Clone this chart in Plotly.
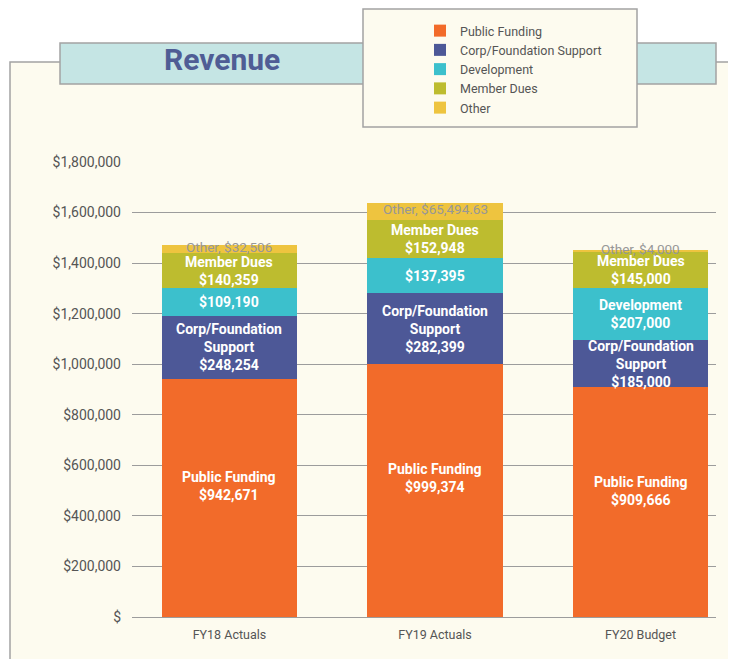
"""Revenue by fiscal year - stacked bar chart."""

import plotly.graph_objects as go

# ---- data ---------------------------------------------------------------
YEARS = ["FY18 Actuals", "FY19 Actuals", "FY20 Budget"]
SOURCES = ["Public Funding", "Corp/Foundation Support", "Development", "Member Dues", "Other"]

PUBLIC_FUNDING = [942671, 999374, 909666]
CORP_FOUNDATION = [248254, 282399, 185000]
DEVELOPMENT = [109190, 137395, 207000]
MEMBER_DUES = [140359, 152948, 145000]
OTHER = [32506, 65494.63, 4000]

# in-bar label text per segment, as written on the original slide
LABELS = {
    "Public Funding": ["Public Funding<br>$942,671", "Public Funding<br>$999,374", "Public Funding<br>$909,666"],
    "Corp/Foundation Support": ["Corp/Foundation<br>Support<br>$248,254",
                                "Corp/Foundation<br>Support<br>$282,399",
                                "Corp/Foundation<br>Support<br>$185,000"],
    "Development": ["$109,190", "$137,395", "Development<br>$207,000"],
    "Member Dues": ["Member Dues<br>$140,359", "Member Dues<br>$152,948", "Member Dues<br>$145,000"],
    "Other": ["Other, $32,506", "Other, $65,494.63", "Other, $4,000"],
}

TICK_VALS = [0, 200000, 400000, 600000, 800000, 1000000, 1200000, 1400000, 1600000, 1800000]
TICK_TEXT = ["$", "$200,000", "$400,000", "$600,000", "$800,000", "$1,000,000",
             "$1,200,000", "$1,400,000", "$1,600,000", "$1,800,000"]

# ---- style --------------------------------------------------------------
COLORS = {
    "Public Funding": "#F26B2A",
    "Corp/Foundation Support": "#4D5897",
    "Development": "#3CC0CC",
    "Member Dues": "#BDBC2F",
    "Other": "#EEC43F",
}
CREAM = "#FDFBEF"
BORDER = "#A3A3A3"
TEXT_GREY = "#555555"
FONT = "Roboto, Arial, sans-serif"

# where inside a segment its label sits (0.5 = middle); the slide lifts the
# bottom segment's label a little
LABEL_FRAC = {"Public Funding": 0.55}

# page has an 8px body margin, so the figure is sized to the window minus that
W, H = 728, 651
PLOT_L, PLOT_R, PLOT_T, PLOT_B = 132, 716, 162, 617  # plot area in window pixels


def px(x):
    return (x - PLOT_L) / (PLOT_R - PLOT_L)


def py(y):
    return (PLOT_B - y) / (PLOT_B - PLOT_T)


series = [PUBLIC_FUNDING, CORP_FOUNDATION, DEVELOPMENT, MEMBER_DUES, OTHER]

fig = go.Figure()
for name, vals in zip(SOURCES, series):
    fig.add_trace(go.Bar(
        x=YEARS, y=vals, name=name, width=0.657,
        marker=dict(color=COLORS[name], line=dict(width=0)),
        hoverinfo="x+y+name",
    ))

# segment labels inside each segment
base = [0, 0, 0]
for name, vals in zip(SOURCES, series):
    frac = LABEL_FRAC.get(name, 0.5)
    for i, v in enumerate(vals):
        other = name == "Other"
        fig.add_annotation(
            x=YEARS[i], y=base[i] + v * frac, text=LABELS[name][i], showarrow=False,
            font=dict(family=FONT, size=13.5 if other else 14,
                      color="#979797" if other else "white",
                      weight="normal" if other else "bold"),
            align="center", yanchor="middle", yshift=2 if other else 0,
        )
        base[i] += v

shapes = [
    # cream panel
    dict(type="rect", xref="paper", yref="paper", x0=px(10), x1=px(745), y0=py(668), y1=py(62),
         fillcolor=CREAM, line=dict(color=BORDER, width=1.5), layer="below"),
    # title band
    dict(type="rect", xref="paper", yref="paper", x0=px(60), x1=px(716), y0=py(84), y1=py(43),
         fillcolor="#C5E5E4", line=dict(color=BORDER, width=1.5), layer="below"),
    # legend box
    dict(type="rect", xref="paper", yref="paper", x0=px(363), x1=px(637), y0=py(127), y1=py(9),
         fillcolor=CREAM, line=dict(color=BORDER, width=1.5), layer="below"),
]

fig.add_annotation(
    xref="paper", yref="paper", x=px(222), y=py(60), text="<b>Revenue</b>", showarrow=False,
    font=dict(family=FONT, size=30, color="#4F5D95"), xanchor="center", yanchor="middle",
)

fig.update_layout(
    width=W, height=H,
    margin=dict(l=PLOT_L - 8, r=8 + W - PLOT_R, t=PLOT_T - 8, b=8 + H - PLOT_B,
                pad=0, autoexpand=False),
    barmode="stack",
    paper_bgcolor="white",
    plot_bgcolor="rgba(0,0,0,0)",
    font=dict(family=FONT, color=TEXT_GREY, size=12),
    shapes=shapes,
    showlegend=True,
    legend=dict(
        x=px(420), y=py(16), xanchor="left", yanchor="top",
        traceorder="normal", bgcolor="rgba(0,0,0,0)",
        font=dict(family=FONT, size=12.5, color=TEXT_GREY),
        itemclick=False, itemdoubleclick=False, tracegroupgap=0,
    ),
)
fig.update_xaxes(range=[-0.474, 2.367], showgrid=False, showline=False, ticks="",
                 ticklabelstandoff=8, tickfont=dict(size=12.5, color=TEXT_GREY))
fig.update_yaxes(range=[0, 1800000], tickvals=TICK_VALS, ticktext=TICK_TEXT,
                 showgrid=True, gridcolor="#9C9C9C", gridwidth=1,
                 zeroline=True, zerolinecolor="#9C9C9C", zerolinewidth=1,
                 showline=False, ticks="", ticklabelstandoff=10,
                 tickfont=dict(size=14, color=TEXT_GREY))

fig.write_html("out.html")
